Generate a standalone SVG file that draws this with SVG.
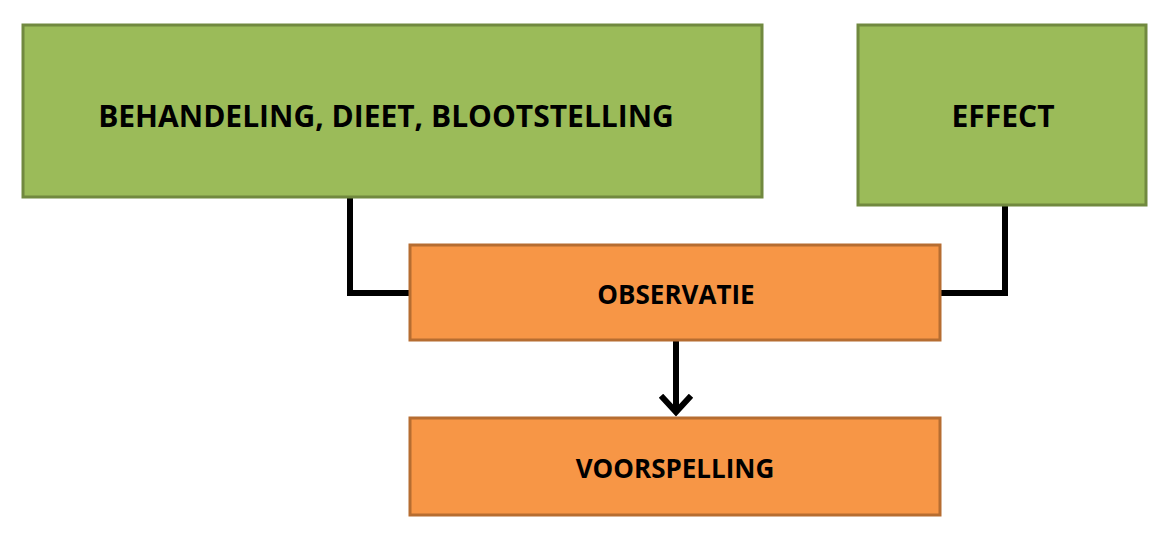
<svg xmlns="http://www.w3.org/2000/svg" width="1172" height="540" viewBox="0 0 1172 540">
<style>
.g{fill:#9bbb59;stroke:#71893f;stroke-width:3}
.o{fill:#f79646;stroke:#b66d31;stroke-width:3}
.t{font-family:"Open Sans","Liberation Sans",sans-serif;font-weight:bold;fill:#000;text-anchor:middle;dominant-baseline:central}
.c{fill:none;stroke:#000;stroke-width:6}
</style>
<defs><marker id="a" markerWidth="6" markerHeight="6" refX="3" refY="3" orient="auto" markerUnits="strokeWidth"><path d="M0.3,0.5 L3,3 L0.3,5.5" fill="none" stroke="#000" stroke-width="1"/></marker></defs>
<g id="connectors">
<polyline class="c" points="350,197 350,293 410,293"/>
<polyline class="c" points="1005,205 1005,293 940,293"/>
<line class="c" x1="676" y1="340" x2="676" y2="412" marker-end="url(#a)"/>
</g>
<g id="behandeling"><rect class="g" x="23" y="25" width="739" height="172"/><text class="t" x="386" y="115" font-size="30">BEHANDELING, DIEET, BLOOTSTELLING</text></g>
<g id="effect"><rect class="g" x="858" y="25" width="288" height="180"/><text class="t" x="1003" y="115" font-size="30">EFFECT</text></g>
<g id="observatie"><rect class="o" x="410" y="245" width="530" height="95"/><text class="t" x="676" y="294" font-size="26">OBSERVATIE</text></g>
<g id="voorspelling"><rect class="o" x="410" y="418" width="530" height="97"/><text class="t" x="675" y="468" font-size="26">VOORSPELLING</text></g>
</svg>
